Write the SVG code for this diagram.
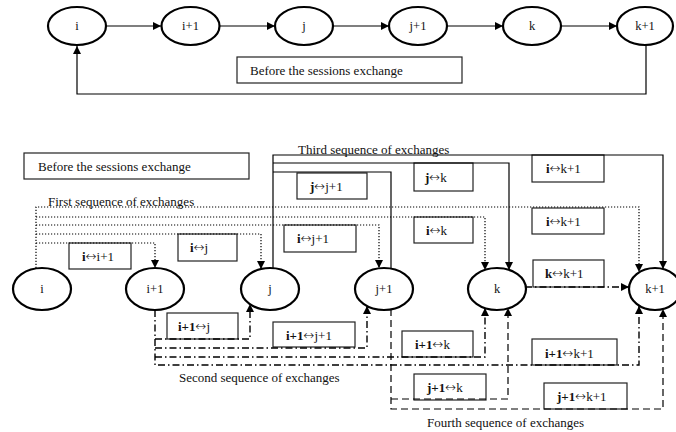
<svg xmlns="http://www.w3.org/2000/svg" width="676" height="432" viewBox="0 0 676 432">
<defs>
<marker id="ah" viewBox="0 0 10 10" refX="10" refY="5" markerWidth="9" markerHeight="8" markerUnits="userSpaceOnUse" orient="auto">
<path d="M0,0 L10,5 L0,10 z" fill="#000"/>
</marker>
<style>
text{font-family:"Liberation Serif","Times New Roman",serif;font-size:13px;fill:#111}
.nd{fill:#fff;stroke:#000;stroke-width:2.2}
.nt{text-anchor:middle;font-size:12.5px}
.box{fill:#fff;stroke:#222;stroke-width:1.2}
.c{fill:none;stroke:#000;stroke-width:1.2}
.s1{fill:none;stroke:#000;stroke-width:1.2;stroke-dasharray:1.2 1.8}
.s2{fill:none;stroke:#000;stroke-width:1.4;stroke-dasharray:7 3 1.5 3}
.s3{fill:none;stroke:#000;stroke-width:1.2}
.s4{fill:none;stroke:#000;stroke-width:1.2;stroke-dasharray:7 4}
.b{font-weight:bold}
.a{font-family:"DejaVu Sans",sans-serif;font-size:13px;font-weight:200}
</style>
</defs>
<rect width="676" height="432" fill="#fff"/>

<!-- top connectors -->
<g id="top-connectors">
<line class="c" x1="106" y1="26" x2="161" y2="26" marker-end="url(#ah)"/>
<line class="c" x1="220" y1="26" x2="275" y2="26" marker-end="url(#ah)"/>
<line class="c" x1="333" y1="26" x2="389" y2="26" marker-end="url(#ah)"/>
<line class="c" x1="447" y1="26" x2="503" y2="26" marker-end="url(#ah)"/>
<line class="c" x1="561" y1="26" x2="617" y2="26" marker-end="url(#ah)"/>
<path class="c" stroke-width="1.6" d="M646,45 V94 H77 V46" marker-end="url(#ah)"/>
</g>
<g id="top-label">
<rect class="box" x="237" y="57" width="225" height="26"/>
<text x="250" y="75">Before the sessions exchange</text>
</g>
<g id="top-i"><ellipse class="nd" cx="77" cy="26" rx="29" ry="19"/><text class="nt" x="77" y="30">i</text></g>
<g id="top-i1"><ellipse class="nd" cx="190.5" cy="26" rx="29" ry="19"/><text class="nt" x="190.5" y="30">i+1</text></g>
<g id="top-j"><ellipse class="nd" cx="304" cy="26" rx="29" ry="19"/><text class="nt" x="304" y="30">j</text></g>
<g id="top-j1"><ellipse class="nd" cx="418" cy="26" rx="29" ry="19"/><text class="nt" x="418" y="30">j+1</text></g>
<g id="top-k"><ellipse class="nd" cx="532" cy="26" rx="29" ry="19"/><text class="nt" x="532" y="30">k</text></g>
<g id="top-k1"><ellipse class="nd" cx="645" cy="26" rx="28" ry="19"/><text class="nt" x="645" y="30">k+1</text></g>

<!-- bottom section -->
<g id="bottom-label">
<rect class="box" x="24" y="153" width="225" height="26"/>
<text x="38" y="171">Before the sessions exchange</text>
</g>

<g id="labels">
<!-- third sequence boxes -->
<rect class="box" x="297" y="173" width="70" height="26"/><text x="310" y="191"><tspan class="b">j</tspan><tspan class="a">↔</tspan>j+1</text>
<rect class="box" x="414" y="163" width="59" height="28"/><text x="425" y="182"><tspan class="b">j</tspan><tspan class="a">↔</tspan>k</text>
<rect class="box" x="532" y="155" width="72" height="27"/><text x="546" y="173"><tspan class="b">i</tspan><tspan class="a">↔</tspan>k+1</text>
<!-- first sequence boxes -->
<rect class="box" x="69" y="243" width="62" height="26"/><text x="82" y="261"><tspan class="b">i</tspan><tspan class="a">↔</tspan>i+1</text>
<rect class="box" x="178" y="234" width="59" height="27"/><text x="190" y="252"><tspan class="b">i</tspan><tspan class="a">↔</tspan>j</text>
<rect class="box" x="284" y="225" width="72" height="27"/><text x="297" y="243"><tspan class="b">i</tspan><tspan class="a">↔</tspan>j+1</text>
<rect class="box" x="414" y="217" width="59" height="26"/><text x="426" y="235"><tspan class="b">i</tspan><tspan class="a">↔</tspan>k</text>
<rect class="box" x="532" y="208" width="72" height="26"/><text x="546" y="226"><tspan class="b">i</tspan><tspan class="a">↔</tspan>k+1</text>
<rect class="box" x="533" y="260" width="71" height="27"/><text x="545" y="278"><tspan class="b">k</tspan><tspan class="a">↔</tspan>k+1</text>
<!-- second sequence boxes -->
<rect class="box" x="167" y="313" width="71" height="26"/><text x="178" y="331"><tspan class="b">i+1</tspan><tspan class="a">↔</tspan>j</text>
<rect class="box" x="273" y="322" width="82" height="25"/><text x="286" y="340"><tspan class="b">i+1</tspan><tspan class="a">↔</tspan>j+1</text>
<rect class="box" x="402" y="331" width="71" height="26"/><text x="415" y="349"><tspan class="b">i+1</tspan><tspan class="a">↔</tspan>k</text>
<rect class="box" x="532" y="339" width="85" height="26"/><text x="545" y="358"><tspan class="b">i+1</tspan><tspan class="a">↔</tspan>k+1</text>
<!-- fourth sequence boxes -->
<rect class="box" x="414" y="374" width="72" height="26"/><text x="427" y="392"><tspan class="b">j+1</tspan><tspan class="a">↔</tspan>k</text>
<rect class="box" x="544" y="383" width="83" height="26"/><text x="557" y="401"><tspan class="b">j+1</tspan><tspan class="a">↔</tspan>k+1</text>
</g>

<g id="connectors">
<!-- first sequence (dotted) from i -->
<path class="s1" d="M36,268 V207 H639 V272" marker-end="url(#ah)"/>
<path class="s1" d="M36,217 H485 V270" marker-end="url(#ah)"/>
<path class="s1" d="M36,225 H379 V268" marker-end="url(#ah)"/>
<path class="s1" d="M36,234 H261 V269" marker-end="url(#ah)"/>
<path class="s1" d="M36,243 H155 V268" marker-end="url(#ah)"/>
<!-- third sequence (solid) from j -->
<path class="s3" d="M273,268 V155 H663 V269" marker-end="url(#ah)"/>
<path class="s3" d="M273,163 H509 V270" marker-end="url(#ah)"/>
<path class="s3" d="M273,172 H391 V269"/>
<!-- second sequence (dash-dot) from i+1 -->
<path class="s2" d="M155,310 V365 H639 V306" marker-end="url(#ah)"/>
<path class="s2" d="M155,357 H485 V308" marker-end="url(#ah)"/>
<path class="s2" d="M155,348 H367 V306" marker-end="url(#ah)"/>
<path class="s2" d="M155,339 H250 V304" marker-end="url(#ah)"/>
<!-- fourth sequence (dashed) from j+1 -->
<path class="s4" d="M391,309 V409 H663 V309" marker-end="url(#ah)"/>
<path class="s4" d="M391,399 H508 V308" marker-end="url(#ah)"/>
<!-- k to k+1 -->
<path class="s2" d="M525,287 H629" marker-end="url(#ah)"/>
</g>

<g id="seq-titles">
<text x="298" y="154">Third sequence of exchanges</text>
<text x="48" y="206">First sequence of exchanges</text>
<text x="179" y="382">Second sequence of exchanges</text>
<text x="427" y="427">Fourth sequence of exchanges</text>
</g>

<g id="node-i"><ellipse class="nd" cx="42" cy="289" rx="29" ry="21"/><text class="nt" x="42" y="293">i</text></g>
<g id="node-i1"><ellipse class="nd" cx="155" cy="289" rx="29" ry="21"/><text class="nt" x="155" y="293">i+1</text></g>
<g id="node-j"><ellipse class="nd" cx="270" cy="289" rx="29" ry="21"/><text class="nt" x="270" y="293">j</text></g>
<g id="node-j1"><ellipse class="nd" cx="384" cy="289" rx="29" ry="21"/><text class="nt" x="384" y="293">j+1</text></g>
<g id="node-k"><ellipse class="nd" cx="497" cy="289" rx="29" ry="21"/><text class="nt" x="497" y="293">k</text></g>
<g id="node-k1"><ellipse class="nd" cx="655" cy="289" rx="26" ry="21"/><text class="nt" x="655" y="293">k+1</text></g>
</svg>
